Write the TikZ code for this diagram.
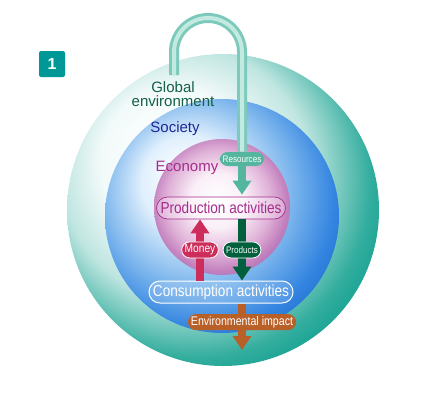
\documentclass[tikz,border=0pt]{standalone}
\usepackage{fontspec}
\setmainfont{Liberation Sans}
\newfontfamily\narrowfont[FakeStretch=0.85]{Liberation Sans}
\usetikzlibrary{arrows.meta,positioning,calc}

\definecolor{boxteal}{RGB}{0,152,150}
\definecolor{globaltext}{RGB}{20,95,70}
\definecolor{societytext}{RGB}{30,40,150}
\definecolor{economytext}{RGB}{165,45,140}
\definecolor{tubeteal}{RGB}{125,202,188}
\definecolor{tubelight}{RGB}{195,234,225}
\definecolor{resourceteal}{RGB}{85,182,160}
\definecolor{moneyred}{RGB}{205,45,90}
\definecolor{productgreen}{RGB}{0,95,60}
\definecolor{impactbrown}{RGB}{185,95,40}

% the three rings
\pgfdeclareradialshading{globeshade}{\pgfpoint{-10bp}{10bp}}{%
  rgb(0bp)=(1,1,1); rgb(12bp)=(0.95,0.98,0.98); rgb(20bp)=(0.75,0.9,0.88);
  rgb(28bp)=(0.2,0.68,0.62); rgb(34bp)=(0,0.6,0.54); rgb(50bp)=(0,0.5,0.46)}
\pgfdeclareradialshading{societyshade}{\pgfpoint{-9bp}{9bp}}{%
  rgb(0bp)=(1,1,1); rgb(10bp)=(0.88,0.94,0.99); rgb(20bp)=(0.5,0.72,0.93);
  rgb(28bp)=(0.2,0.52,0.88); rgb(34bp)=(0.1,0.42,0.78); rgb(50bp)=(0.1,0.38,0.7)}
\pgfdeclareradialshading{economyshade}{\pgfpoint{-2bp}{3bp}}{%
  rgb(0bp)=(1,1,1); rgb(10bp)=(0.98,0.94,0.97); rgb(19bp)=(0.88,0.7,0.85);
  rgb(25bp)=(0.76,0.5,0.74); rgb(30bp)=(0.55,0.45,0.75); rgb(50bp)=(0.5,0.45,0.75)}

\begin{document}
\begin{tikzpicture}[
    x=1pt, y=-1pt,
    ringname/.style={font=\fontsize{15}{14}\selectfont, align=center},
    activity/.style={rounded corners=11pt, minimum height=22pt, inner xsep=4pt,
        font=\narrowfont\fontsize{16}{16}\selectfont},
    tag/.style={rounded corners=8pt, minimum height=16pt, inner xsep=3pt, inner ysep=0pt,
        line width=0.8pt, text=white, font=\narrowfont\fontsize{#1}{#1}\selectfont},
    tag/.default=10,
    flow/.style={line width=8pt, -{Triangle[width=18pt,length=14pt]}},
    tube/.style={draw=tubeteal, double=tubelight, double distance=4pt, line width=3pt},
]
    \useasboundingbox (0,0) rectangle (435,415);

    \shade[shading=globeshade] (223,210) circle[radius=156pt];
    \shade[shading=societyshade] (222,216) circle[radius=117pt];
    \shade[shading=economyshade] (222,207) circle[radius=68pt];

    \node[fill=boxteal, rounded corners=2pt, minimum size=26pt, text=white,
          font=\bfseries\fontsize{16}{16}\selectfont] (number) at (52,64) {1};

    \node[ringname, text=globaltext] (global) at (173,94) {Global\\environment};
    \node[ringname, text=societytext] (society) at (175,129) {Society};
    \node[ringname, text=economytext] (economy) at (187,168) {Economy};

    \node[activity, draw=economytext, line width=0.7pt, fill=white, fill opacity=0.3,
          text opacity=1, text=economytext] (production) at (221,208) {Production activities};
    \node[activity, draw=white, line width=1pt, fill=white, fill opacity=0.15,
          text opacity=1, text=white] (consumption) at (221,292) {Consumption activities};

    \node[tag=9.5, fill=resourceteal, minimum height=14pt] (resources) at (242,159) {Resources};
    \coordinate (tubestart) at (174,75);
    \coordinate (sink) at (242,350);

    % resources come in from outside
    \draw[tube] (tubestart) -- (174,52) arc[start angle=180, end angle=0, radius=34pt] -- (resources);
    \draw[flow, resourceteal, shorten >=2pt] (resources) -- ([xshift=21pt]production.north);

    \draw[flow, moneyred] ([xshift=-21pt]consumption.north)
        -- node[tag=12, fill=moneyred, draw=white] (money) {Money} ([xshift=-21pt]production.south);
    \draw[flow, productgreen] ([xshift=21pt]production.south)
        -- node[tag=9.5, fill=productgreen, draw=white] (products) {Products} ([xshift=21pt]consumption.north);
    \draw[flow, impactbrown] ([xshift=21pt]consumption.south)
        -- node[tag=12.5, fill=impactbrown, pos=0.4] (impact) {Environmental impact} (sink);
\end{tikzpicture}
\end{document}
